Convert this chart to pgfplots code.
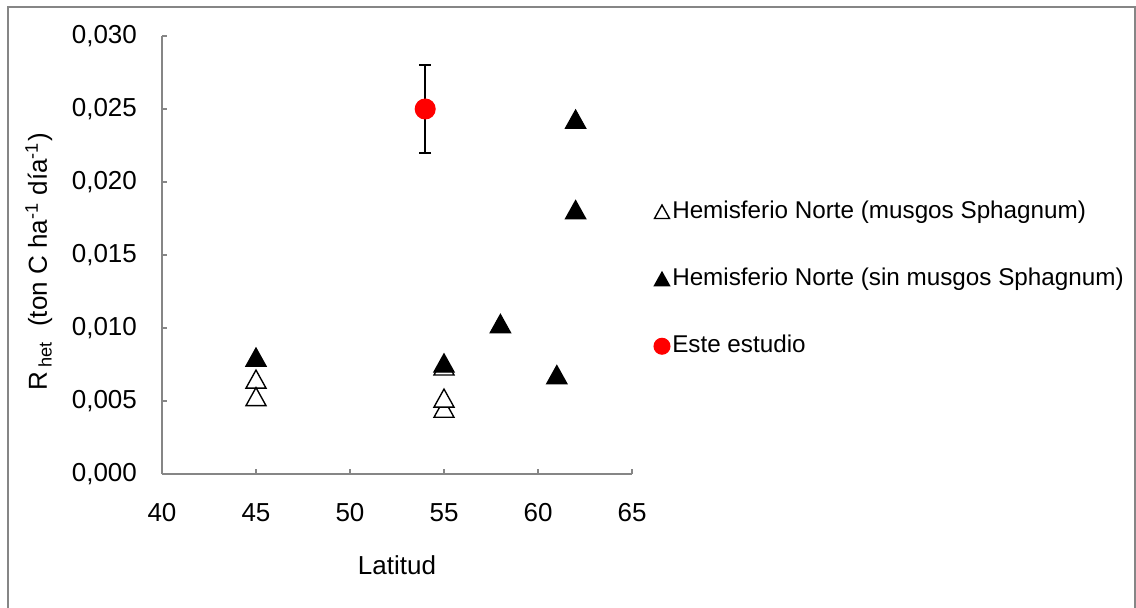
\documentclass[border=0pt]{standalone}
\usepackage{pgfplots}
\pgfplotsset{compat=1.18}
\usepackage{fontspec}
\setmainfont{Liberation Sans}
\newcommand{\fs}{\fontsize{10.4}{12.5}\selectfont}
\newcommand{\lfs}{\fontsize{9.7}{11.6}\selectfont}
\definecolor{axisgray}{RGB}{134,134,134}

% triangle whose bounding box is centred on the data point
\pgfdeclareplotmark{ctri}{%
  \pgfpathmoveto{\pgfqpoint{0pt}{0.9\pgfplotmarksize}}%
  \pgfpathlineto{\pgfqpoint{\pgfplotmarksize}{-0.9\pgfplotmarksize}}%
  \pgfpathlineto{\pgfqpoint{-\pgfplotmarksize}{-0.9\pgfplotmarksize}}%
  \pgfpathclose
  \pgfusepathqfillstroke}

% smaller marks in the legend than in the plot
\pgfplotsset{
  legtri/.style={legend image code/.code={\draw[##1, mark size=3pt] plot coordinates {(0pt,0pt)};}},
  legdot/.style={legend image code/.code={\draw[##1, mark size=3.2pt] plot coordinates {(0pt,0pt)};}},
}

\begin{document}
\begin{tikzpicture}[x=1pt,y=1pt]
\useasboundingbox (0,0) rectangle (454.4,243.2);
\draw[axisgray, line width=0.55pt] (3.2,0) -- (3.2,240.4) -- (454,240.4) -- (454,0);
\begin{axis}[
  at={(64.8pt,53.6pt)}, anchor=south west,
  scale only axis, width=188pt, height=175.2pt,
  xmin=40, xmax=65, ymin=0, ymax=0.03,
  axis x line*=bottom, axis y line*=left,
  axis line style={axisgray, line width=0.5pt, -},
  xtick={40,45,50,55,60,65},
  ytick={0,0.005,0.01,0.015,0.02,0.025,0.03},
  tick align=inside, major tick length=2pt,
  tick style={axisgray, line width=0.5pt},
  scaled y ticks=false,
  /pgf/number format/assume math mode=true,
  tick label style={font=\fs},
  xticklabel style={yshift=-8.4pt},
  yticklabel style={xshift=-6.5pt, /pgf/number format/fixed,
    /pgf/number format/fixed zerofill, /pgf/number format/precision=3,
    /pgf/number format/use comma},
  xlabel={Latitud},
  xlabel style={font=\fs, at={(axis description cs:0.5,0)}, anchor=center, yshift=-36.4pt},
  ylabel={R\,\textsubscript{het}\ \ (ton C ha\textsuperscript{-1} día\textsuperscript{-1})},
  ylabel style={font=\fs, at={(axis description cs:-0.2447,0.484)}, anchor=base},
  legend cell align=left,
  legend style={draw=none, fill=none, at={(1.0468,0.4452)}, anchor=west,
    font=\lfs, inner sep=0pt, outer sep=0pt, row sep=17.6pt, column sep=0.9pt,
    nodes={inner sep=0pt, text height=7.2pt, text depth=2.1pt}},
]
% Northern Hemisphere, Sphagnum mosses
\addplot[only marks, mark=ctri, mark size=4pt,
  mark options={draw=black, fill=white, line width=0.55pt}, legtri]
  coordinates {(45,0.0065) (45,0.0053) (55,0.0074) (55,0.0045) (55,0.0052)};
\addlegendentry{Hemisferio Norte (musgos Sphagnum)}
% Northern Hemisphere, without Sphagnum mosses
\addplot[only marks, mark=ctri, mark size=4pt,
  mark options={draw=black, fill=black, line width=0.55pt}, legtri]
  coordinates {(45,0.0080) (55,0.0076) (58,0.0103) (61,0.0068) (62,0.0181) (62,0.0243)};
\addlegendentry{Hemisferio Norte (sin musgos Sphagnum)}
% this study
\addplot[only marks, mark=*, mark size=4pt, color=red,
  mark options={draw=red, fill=red}, legdot,
  error bars/.cd, y dir=both, y explicit,
  error bar style={black, line width=0.8pt},
  error mark options={black, line width=0.8pt, mark size=2.4pt, rotate=90}]
  coordinates {(54,0.025) +- (0,0.003)};
\addlegendentry{Este estudio}
\end{axis}
\end{tikzpicture}
\end{document}
